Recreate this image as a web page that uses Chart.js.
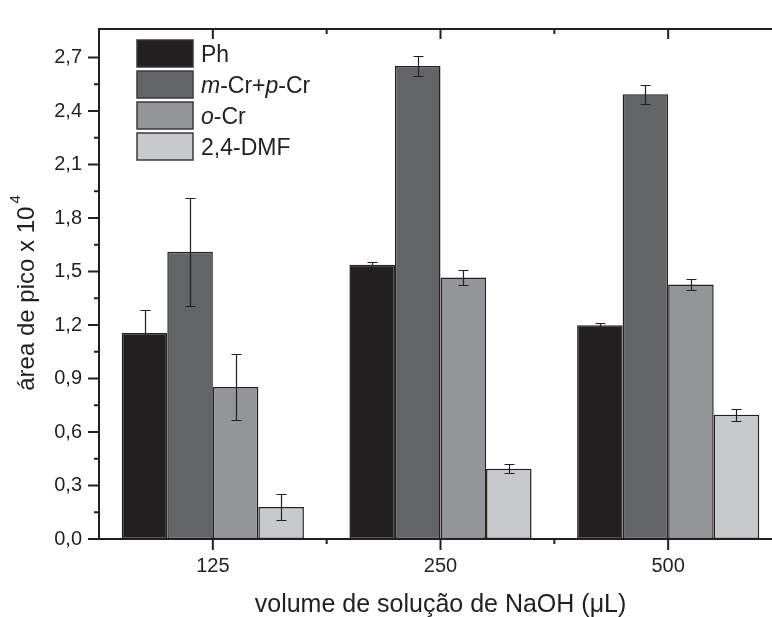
<!DOCTYPE html>
<html><head><meta charset="utf-8">
<script src="https://cdn.jsdelivr.net/npm/chart.js@4"></script>
<style>html,body{margin:0;padding:0;overflow:hidden;background:#fff;width:772px;height:617px}</style>
</head><body>
<canvas id="c" width="800" height="617" style="display:block;width:800px;height:617px"></canvas>
<script>
// ---- data ----
const categories = ['125', '250', '500'];
const seriesNames = ['Ph', 'm-Cr+p-Cr', 'o-Cr', '2,4-DMF'];
const phValues  = [1.155, 1.538, 1.198];
const phErrors  = [0.130, 0.018, 0.014];
const mcrValues = [1.611, 2.653, 2.494];
const mcrErrors = [0.303, 0.055, 0.052];
const ocrValues = [0.853, 1.467, 1.427];
const ocrErrors = [0.183, 0.042, 0.030];
const dmfValues = [0.180, 0.394, 0.697];
const dmfErrors = [0.072, 0.026, 0.033];
const yTickValues  = [0, 0.3, 0.6, 0.9, 1.2, 1.5, 1.8, 2.1, 2.4, 2.7];
const yMinorValues = [0.15, 0.45, 0.75, 1.05, 1.35, 1.65, 1.95, 2.25, 2.55];
const xTitle = 'volume de solução de NaOH (μL)';
const yTitle = 'área de pico x 10';
const yTitleSup = '4';
// legend label pieces: [text, italic]
const legendParts = [
  [['Ph', false]],
  [['m', true], ['-Cr+', false], ['p', true], ['-Cr', false]],
  [['o', true], ['-Cr', false]],
  [['2,4-DMF', false]]
];

// ---- styles ----
const FONT = '"Liberation Sans", Arial, Helvetica, sans-serif';
const INK = '#231f20';
const fills = ['#231f20', '#636466', '#939598', '#c8c9cb'];

const valueSets = [phValues, mcrValues, ocrValues, dmfValues];
const errorSets = [phErrors, mcrErrors, ocrErrors, dmfErrors];

const datasets = seriesNames.map((name, i) => ({
  label: name,
  data: valueSets[i],
  errors: errorSets[i],
  backgroundColor: fills[i],
  borderColor: INK,
  borderWidth: 1.5,
  borderSkipped: false,
  categoryPercentage: 0.8,
  barPercentage: 1.0
}));

const decor = {
  id: 'decor',
  afterDatasetsDraw(chart) {
    const ctx = chart.ctx;
    const {left, right, top, bottom} = chart.chartArea;
    const xs = chart.scales.x, ys = chart.scales.y;
    ctx.save();
    // error bars
    chart.data.datasets.forEach((ds, i) => {
      const meta = chart.getDatasetMeta(i);
      meta.data.forEach((el, j) => {
        const v = ds.data[j], e = ds.errors[j];
        const y1 = Math.round(ys.getPixelForValue(v + e)) + 0.5;
        const y2 = Math.round(ys.getPixelForValue(v - e)) + 0.5;
        const x = Math.round(el.x) + 0.5;
        ctx.strokeStyle = INK;
        ctx.lineWidth = 1.2;
        ctx.beginPath();
        ctx.moveTo(x, y1); ctx.lineTo(x, y2);
        ctx.moveTo(x - 5, y1); ctx.lineTo(x + 5, y1);
        ctx.moveTo(x - 5, y2); ctx.lineTo(x + 5, y2);
        ctx.stroke();
      });
    });
    // axes
    ctx.strokeStyle = INK;
    ctx.lineWidth = 2;
    ctx.beginPath();
    ctx.moveTo(left - 1, top); ctx.lineTo(right, top);
    ctx.moveTo(left, top); ctx.lineTo(left, bottom + 1);
    ctx.moveTo(left - 1, bottom); ctx.lineTo(right, bottom);
    // y ticks
    yTickValues.forEach(v => {
      const y = ys.getPixelForValue(v);
      ctx.moveTo(left - 11, y); ctx.lineTo(left, y);
    });
    yMinorValues.forEach(v => {
      const y = ys.getPixelForValue(v);
      ctx.moveTo(left - 5, y); ctx.lineTo(left, y);
    });
    // x ticks
    categories.forEach((c, j) => {
      const x = xs.getPixelForValue(j);
      ctx.moveTo(x, bottom); ctx.lineTo(x, bottom + 11);
      ctx.moveTo(x, top); ctx.lineTo(x, top + 10);
      if (j < categories.length - 1) {
        const xm = (x + xs.getPixelForValue(j + 1)) / 2;
        ctx.moveTo(xm, bottom); ctx.lineTo(xm, bottom + 5);
        ctx.moveTo(xm, top); ctx.lineTo(xm, top + 5);
      }
    });
    ctx.stroke();

    // axis titles
    ctx.fillStyle = INK;
    ctx.font = '25px ' + FONT;
    ctx.textAlign = 'center';
    ctx.textBaseline = 'alphabetic';
    ctx.fillText(xTitle, (left + right) / 2, 612);

    ctx.save();
    ctx.translate(34, 293);
    ctx.rotate(-Math.PI / 2);
    ctx.textAlign = 'left';
    ctx.font = '24px ' + FONT;
    const w1 = ctx.measureText(yTitle).width;
    ctx.font = '15px ' + FONT;
    const w2 = ctx.measureText(yTitleSup).width;
    const start = -(w1 + w2 + 3) / 2;
    ctx.font = '24px ' + FONT;
    ctx.fillText(yTitle, start, 0);
    ctx.font = '15px ' + FONT;
    ctx.fillText(yTitleSup, start + w1 + 3, -14);
    ctx.restore();

    // legend
    const bx = 137, bw = 56, bh = 27, by0 = 40, step = 31;
    seriesNames.forEach((name, i) => {
      const by = by0 + i * step;
      ctx.fillStyle = fills[i];
      ctx.fillRect(bx, by, bw, bh);
      ctx.strokeStyle = '#3a3a3a';
      ctx.lineWidth = 1.5;
      ctx.strokeRect(bx, by, bw, bh);
      let tx = 201;
      const ty = by + bh / 2 + 8.5;
      ctx.fillStyle = INK;
      ctx.textAlign = 'left';
      legendParts[i].forEach(([t, it]) => {
        ctx.font = (it ? 'italic ' : '') + '23px ' + FONT;
        ctx.fillText(t, tx, ty);
        tx += ctx.measureText(t).width;
      });
    });
    ctx.restore();
  }
};

new Chart(document.getElementById('c'), {
  type: 'bar',
  data: { labels: categories, datasets },
  options: {
    responsive: false,
    animation: false,
    devicePixelRatio: 1,
    layout: { padding: { top: 15, right: 18, left: 0, bottom: 0 } },
    plugins: { legend: { display: false }, tooltip: { enabled: false } },
    scales: {
      x: {
        type: 'category',
        offset: true,
        grid: { display: false, drawTicks: false },
        border: { display: false },
        ticks: { color: INK, font: { family: FONT, size: 20 }, padding: 15, maxRotation: 0 },
        afterFit(s) { s.height = 78; }
      },
      y: {
        min: 0,
        max: 2.86,
        grid: { display: false, drawTicks: false },
        border: { display: false },
        ticks: {
          color: INK,
          font: { family: FONT, size: 20 },
          padding: 17,
          callback: v => v.toFixed(1).replace('.', ',')
        },
        afterBuildTicks(s) { s.ticks = yTickValues.map(v => ({ value: v })); },
        afterFit(s) { s.width = 99; }
      }
    }
  },
  plugins: [decor]
});
</script>
</body></html>
